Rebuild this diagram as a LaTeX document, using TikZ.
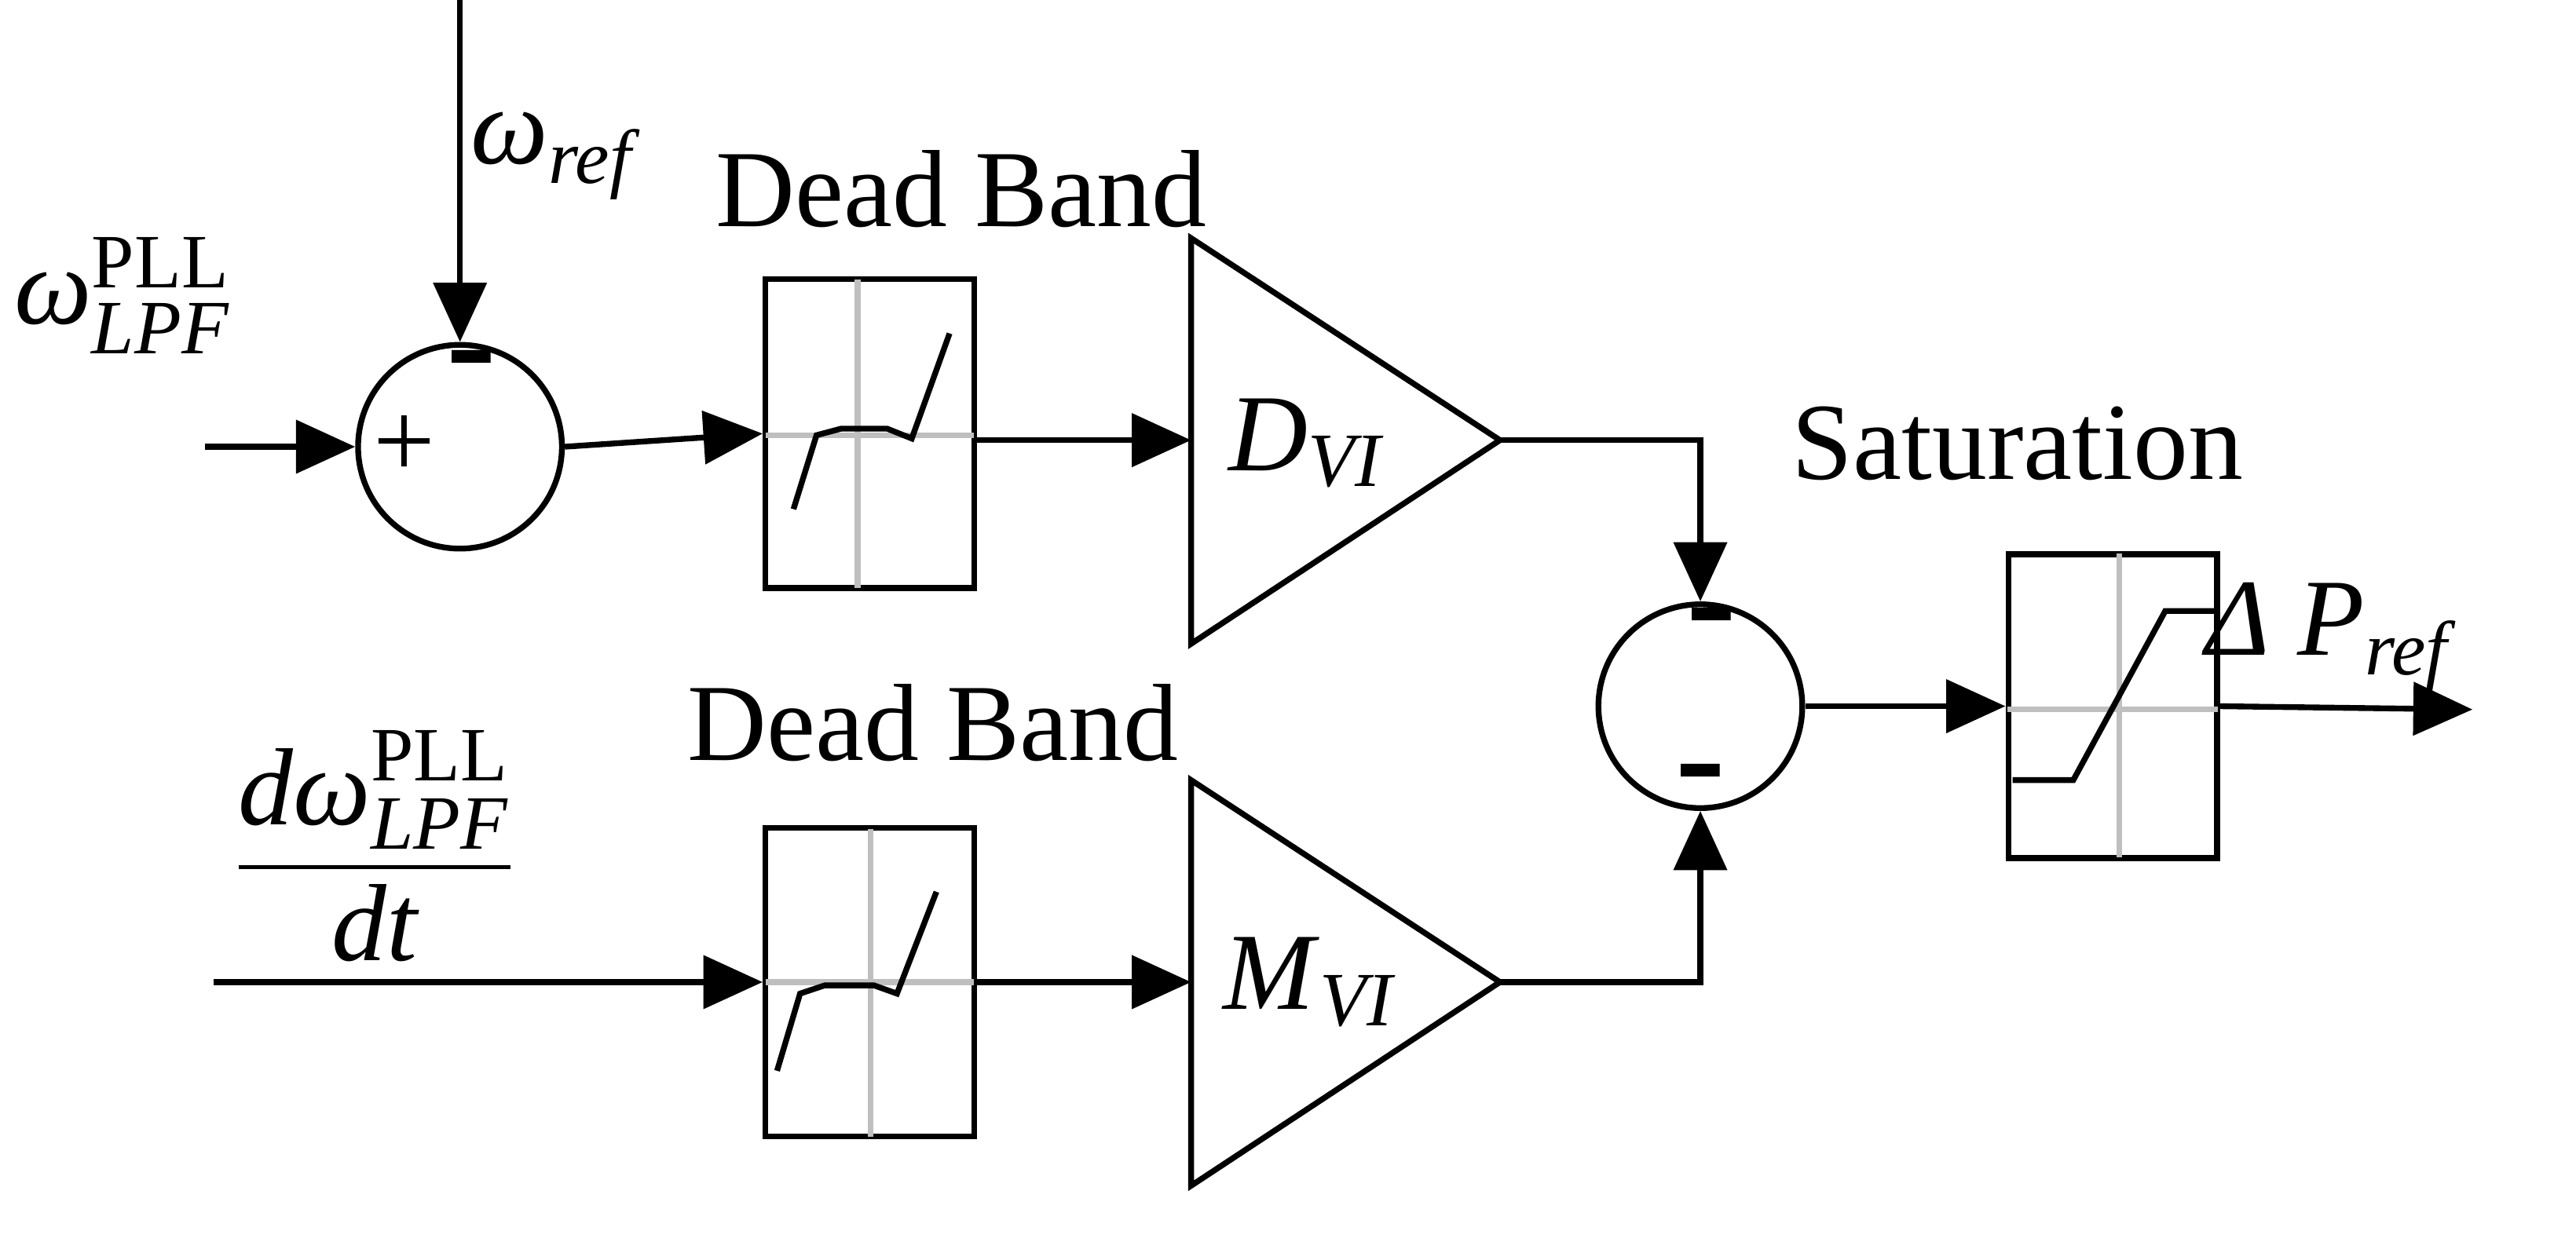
\documentclass[tikz,border=0pt]{standalone}
\usepackage{amsmath}
\usepackage{fontspec}
\setmainfont{Liberation Serif}
\usetikzlibrary{arrows.meta}
\begin{document}
\begin{tikzpicture}[x=0.01cm,y=-0.01cm,
  ln/.style={line width=1pt},
  arr/.style={ln,-{Triangle[length=3.6mm,width=3.2mm]}},
  box/.style={ln,draw,minimum width=1.27cm,minimum height=1.88cm,inner sep=0},
  sum/.style={ln,draw,circle,minimum size=1.24cm,inner sep=0},
  grey/.style={line width=1pt,draw=black!25},
  lbl/.style={font=\fontsize{19}{22}\selectfont,inner sep=0},
  sgn/.style={font=\fontsize{26}{26}\selectfont\bfseries,inner sep=0}]
\useasboundingbox (0,0) rectangle (1568,756);
% sum 1
\node[sum] (s1) at (280,272) {};
\coordinate (in1) at (125,272);
\coordinate (top1) at (280,0);
\draw[arr] (in1) -- (s1.west);
\draw[arr] (top1) -- (s1.north);
\node[lbl] (plus) at (246,272) {+};
\node[sgn] (m1) at (287,226) {-};
\node[lbl,anchor=west] (wlpf) at (8,180) {\textit{ω}$^{\mathrm{PLL}}_{\textit{LPF}}$};
\node[lbl,anchor=west] (wref) at (286,95) {\textit{ω}$_{\textit{ref}}$};
% dead band 1
\node[box] (db1) at (529.5,264) {};
\draw[grey] (522,170) -- (522,358) (466,265) -- (593,265);
\draw[ln] (483,310) -- (497,265) -- (512,261) -- (540,261) -- (555,267) -- (578,203);
\node[lbl] (dbl1) at (585,115) {Dead Band};
\draw[arr] (s1.east) -- (db1.west);
% gain D
\coordinate (gDin) at (725,268);
\coordinate (gDa) at (913,268);
\draw[ln,line join=miter] (725,145) -- (gDa) -- (725,392) -- cycle;
\node[lbl] (dl) at (795,270) {\textit{D}$_{\textit{VI}}$};
\draw[arr] (db1.east |- gDin) -- (gDin);
% lower row
\node[box] (db2) at (529.5,598) {};
\draw[grey] (530,505) -- (530,692) (466,598) -- (593,598);
\draw[ln] (473,652) -- (487,605) -- (502,600) -- (532,600) -- (546,605) -- (570,543);
\node[lbl] (dbl2) at (568,440) {Dead Band};
\coordinate (in2) at (130,598);
\draw[arr] (in2) -- (db2.west);
\node[lbl] (frac) at (228,515) {$\dfrac{\textit{dω}^{\mathrm{PLL}}_{\textit{LPF}}}{\textit{dt}}$};
\coordinate (gMin) at (725,598);
\coordinate (gMa) at (913,598);
\draw[ln,line join=miter] (725,475) -- (gMa) -- (725,722) -- cycle;
\node[lbl] (ml) at (797,598) {\textit{M}$_{\textit{VI}}$};
\draw[arr] (db2.east) -- (gMin);
% sum 2
\node[sum] (s2) at (1035,430) {};
\node[sgn] (m2) at (1042,383) {-};
\node[sgn] (m3) at (1035,478) {-};
\draw[arr] (gDa) -| (s2.north);
\draw[arr] (gMa) -| (s2.south);
% saturation
\node[box,minimum height=1.85cm] (sat) at (1286,430) {};
\draw[grey] (1290,337) -- (1290,522) (1222,432) -- (1350,432);
\draw[ln] (1225,475) -- (1262,475) -- (1318,372) -- (1350,372);
\node[lbl] (satl) at (1228,270) {Saturation};
\draw[arr] (s2.east) -- (sat.west);
\coordinate (out) at (1505,432);
\draw[arr] (sat.east) -- (out);
\node[lbl,anchor=west] (dp) at (1342,388) {\textit{Δ P}$_{\textit{ref}}$};
\end{tikzpicture}
\end{document}
